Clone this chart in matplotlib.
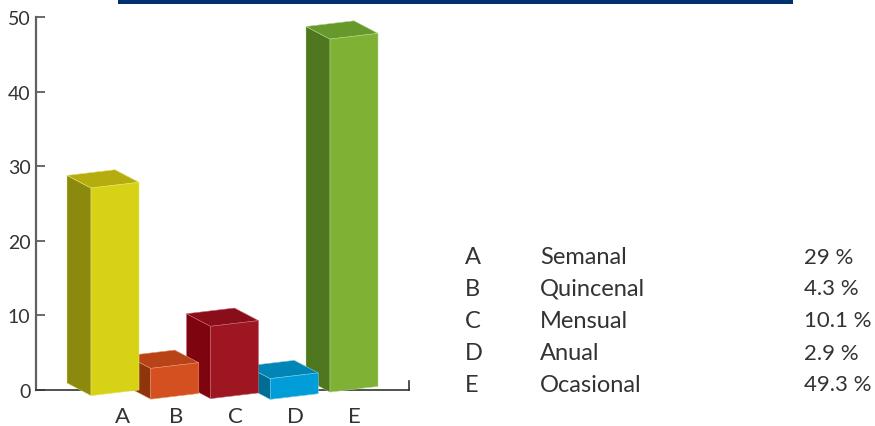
import matplotlib
matplotlib.use('Agg')
import matplotlib.pyplot as plt
from matplotlib.patches import Polygon, Rectangle

plt.rcParams['font.family'] = ['Lato', 'DejaVu Sans']

letters = ['A', 'B', 'C', 'D', 'E']
names = ['Semanal', 'Quincenal', 'Mensual', 'Anual', 'Ocasional']
values = [29, 4.3, 10.1, 2.9, 49.3]
value_labels = ['29 %', '4.3 %', '10.1 %', '2.9 %', '49.3 %']
y_ticks = [0, 10, 20, 30, 40, 50]

front_colors = ['#d8d216', '#d55021', '#9e1622', '#009dd8', '#7fb135']
top_colors = ['#b5ad10', '#b74316', '#8a0e1a', '#0085b5', '#66982b']
side_colors = ['#8c8a0e', '#8e350c', '#7e0410', '#006d95', '#4e7720']
edge_colors = ['#e6e26a', '#e8926f', '#c46a72', '#7cc8e8', '#b5d488']

W, H = 875, 427
PX_X = 59.75   # pixels per category
PX_Y = 7.454   # pixels per axis unit

# how the drawn boxes sit against the axis (perspective of the original)
bar_w = 48 / PX_X
depth_x = 24 / PX_X
depth_y = 12.6 / PX_Y
slant = 5.7 / PX_Y
height_scale = 7.16 / PX_Y
floor = [-0.8, -1.27, -1.2, -1.3, -0.32]
label_shift = [0.12, 0.02, 0.02, 0.02, 0.0]

fig = plt.figure(figsize=(W / 100, H / 100), dpi=100)
ax = fig.add_axes([36 / W, 1 - 390.7 / H, (409 - 36) / W, (390.7 - 18) / H])
ax.set_xlim(-79 / PX_X, 294 / PX_X)
ax.set_ylim(0, 50)

# blue band at the top
fig.add_artist(Rectangle((118 / W, 1 - 4.5 / H), 675 / W, 4.5 / H,
                         transform=fig.transFigure, color='#003070', lw=0))

ax.spines['top'].set_visible(False)
ax.spines['right'].set_visible(False)
ax.spines['left'].set_color('#606060')
ax.spines['left'].set_linewidth(1.6)
ax.spines['bottom'].set_color('#333333')
ax.spines['bottom'].set_linewidth(1.2)
ax.set_yticks(y_ticks)
ax.tick_params(axis='y', direction='in', length=6.5, width=1.2, color='#505050',
               labelsize=14, labelcolor='#333333', pad=4)
ax.set_xticks([i + s for i, s in enumerate(label_shift)])
ax.set_xticklabels(letters)
ax.tick_params(axis='x', length=0, labelsize=16, labelcolor='#333333', pad=11.5)
ax.plot([1, 1], [0, 9 / (390.7 - 18)], transform=ax.transAxes, color='#333333',
        lw=1.2, clip_on=False)

for i in range(len(values) - 1, -1, -1):
    x0 = i - bar_w / 2
    x1 = i + bar_w / 2
    b0 = floor[i]
    b1 = floor[i] + slant
    h = values[i] * height_scale
    z = 5 + (len(values) - i)
    ec = edge_colors[i]
    side = [(x0, b0), (x0, b0 + h), (x0 - depth_x, b0 + h + depth_y), (x0 - depth_x, b0 + depth_y)]
    top = [(x0, b0 + h), (x1, b1 + h), (x1 - depth_x, b1 + h + depth_y), (x0 - depth_x, b0 + h + depth_y)]
    front = [(x0, b0), (x1, b1), (x1, b1 + h), (x0, b0 + h)]
    ax.add_patch(Polygon(side, closed=True, fc=side_colors[i], ec=ec, lw=0.3, zorder=z, clip_on=False))
    ax.add_patch(Polygon(top, closed=True, fc=top_colors[i], ec=ec, lw=0.4, zorder=z, clip_on=False))
    ax.add_patch(Polygon(front, closed=True, fc=front_colors[i], ec=ec, lw=0.4, zorder=z, clip_on=False))

# table on the right
for i in range(len(letters)):
    y = 1 - (257.5 + 32 * i) / H
    fig.text(465 / W, y, letters[i], ha='left', va='center', fontsize=17, color='#333333')
    fig.text(540 / W, y, names[i], ha='left', va='center', fontsize=17, color='#333333')
    fig.text(804 / W, y, value_labels[i], ha='left', va='center', fontsize=16, color='#333333')

fig.savefig('out.png', dpi=100)
